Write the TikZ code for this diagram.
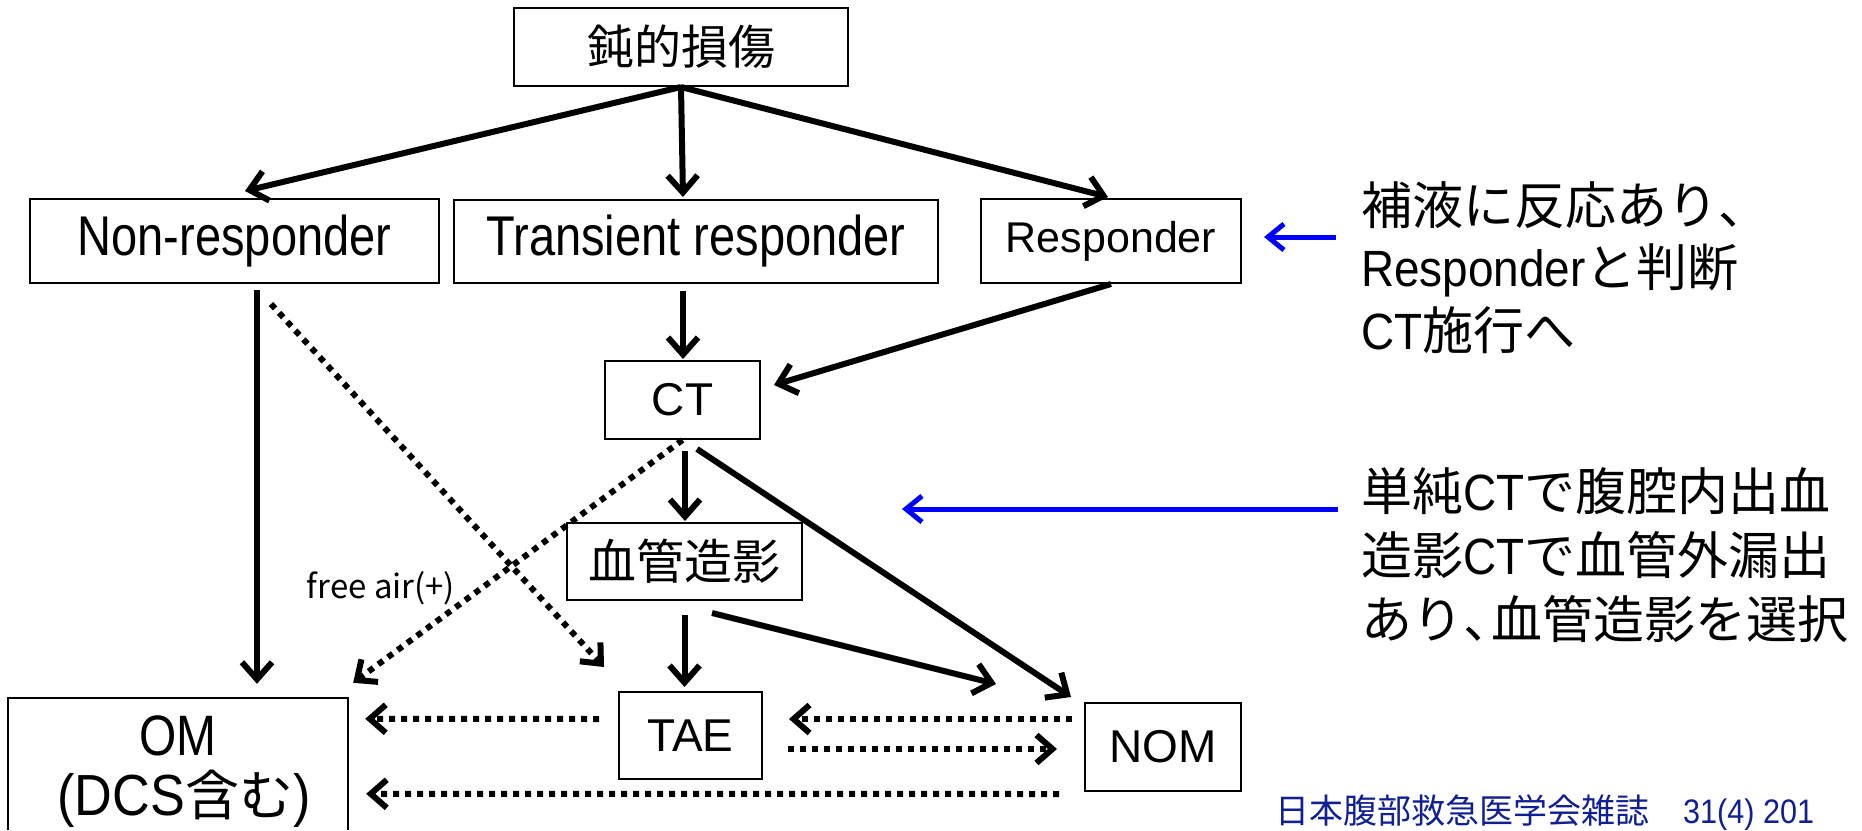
\documentclass[tikz,border=0pt]{standalone}
\usepackage{fontspec}
\setmainfont{Liberation Sans}
\newfontfamily\jp{Noto Sans CJK JP}
\newfontfamily\cnd[FakeStretch=0.84]{Liberation Sans}
\newfontfamily\cnb[FakeStretch=0.9]{Liberation Sans}
\usetikzlibrary{arrows.meta,calc}
\definecolor{citeblue}{RGB}{16,32,144}
\newcommand{\fsz}[1]{\fontsize{#1pt}{#1pt}\selectfont}
\newcommand{\hcomma}{\makebox[0.55em][l]{、}}
\begin{document}
\begin{tikzpicture}[x=1pt,y=-1pt,
  box/.style={draw,line width=2pt,inner sep=0pt},
  arr/.style={line width=6pt,-{Straight Barb[length=17pt,width=30pt]}},
  dotarr/.style={line width=6pt,dash pattern=on 6pt off 6pt,-{Straight Barb[length=16pt,width=28pt]}},
  bluearr/.style={draw=blue,line width=5pt,-{Straight Barb[length=16pt,width=26pt]}},
  rtext/.style={anchor=base west,inner sep=0pt,font=\fsz{51}}
]
\fill[white] (0,0) rectangle (1862,830);
\useasboundingbox (0,0) rectangle (1862,830);

% nodes
\node[box,minimum width=334pt,minimum height=78pt] (inj) at (681,47) {\jp\fsz{47}鈍的損傷};
\node[box,minimum width=409pt,minimum height=84pt] (nonr) at (234.5,241) {\cnd\fsz{56}\raisebox{-4pt}{Non-responder}};
\node[box,minimum width=484pt,minimum height=83pt] (trans) at (696,241.5) {\cnd\fsz{56}\raisebox{-4pt}{Transient responder}};
\node[box,minimum width=260pt,minimum height=84pt] (resp) at (1111,241) {\fsz{43}\raisebox{-2pt}{Responder}};
\node[box,minimum width=155pt,minimum height=78pt] (ct) at (682.5,400) {\fsz{46}CT};
\node[box,minimum width=235pt,minimum height=77pt] (angio) at (684.5,561.5) {\jp\fsz{48}血管造影};
\node[box,minimum width=143pt,minimum height=87pt] (tae) at (690.5,735.5) {\fsz{46}TAE};
\node[box,minimum width=156pt,minimum height=88pt] (nom) at (1163,747) {\fsz{46}NOM};
\node[inner sep=0pt,minimum width=340pt,minimum height=132pt] (om) at (178,764) {};
\draw[line width=2pt] (om.south west) -- (om.north west) -- (om.north east) -- (om.south east);
\node[inner sep=0pt] (omt1) at (178,736) {\cnd\fsz{57}OM};
\node[inner sep=0pt] (omt2) at (184,799) {\cnb\fsz{58}(DCS\jp\fsz{54}含む\cnb\fsz{58})};
\node[inner sep=0pt] (fa) at (381,588) {\jp\fsz{33}free air(+)};

% solid connectors
\draw[arr] (inj.south) -- ($(nonr.north)+(10.5,-7)$);
\draw[arr] (inj.south) -- ($(trans.north)+(-13,-2)$);
\draw[arr] (inj.south) -- ($(resp.north)+(-3,-1)$);
\draw[arr] ($(trans.south)+(-13,7)$) -- ($(ct.north)+(0.5,-1)$);
\draw[arr] (resp.south) -- ($(ct.east)+(13,-15)$);
\draw[arr] ($(ct.south)+(2.5,11)$) -- ($(angio.north)+(0.5,-1)$);
\draw[arr] ($(ct.south)+(14.5,9)$) -- ($(nom.north west)+(-13,-5)$);
\draw[arr] ($(angio.south)+(0,14)$) -- ($(tae.north)+(-6,-4)$);
\draw[arr] ($(angio.south)+(27.5,12)$) -- ($(nom.north west)+(-88,-18)$);
\draw[arr] ($(nonr.south)+(22.5,6)$) -- ($(om.north)+(79,-14)$);

% dotted connectors
\draw[dotarr] ($(nonr.south)+(36.5,20)$) -- ($(tae.north west)+(-14,-24)$);
\draw[dotarr] (ct.south) -- ($(om.north east)+(5,-15)$);
\draw[dotarr] ($(tae.west)+(-19,-16.5)$) -- ($(om.north east)+(17,21)$);
\draw[dotarr] ($(nom.west)+(-12,-28)$) -- ($(tae.east)+(26,-16.5)$);
\draw[dotarr] ($(tae.east)+(25,13.5)$) -- ($(nom.west)+(-27,2)$);
\draw[dotarr] ($(nom.west)+(-25,47)$) -- ($(om.north east)+(18,96)$);

% annotations
\coordinate (b1s) at (1336,237);
\coordinate (b1e) at (1264,237);
\coordinate (b2s) at (1338,509);
\coordinate (b2e) at (902,509);
\draw[bluearr] (b1s) -- (b1e);
\draw[bluearr] (b2s) -- (b2e);

\node[rtext] (r1a) at (1361,224) {\jp 補液に反応あり\hcomma};
\node[rtext] (r1b) at (1361,286) {\cnb Responder\jp と判断};
\node[rtext] (r1c) at (1361,349) {\cnb CT\jp 施行へ};
\node[rtext] (r2a) at (1361,510) {\jp 単純\cnb CT\jp で腹腔内出血};
\node[rtext] (r2b) at (1361,574) {\jp 造影\cnb CT\jp で血管外漏出};
\node[rtext] (r2c) at (1361,638) {\jp あり\hcomma 血管造影を選択};

\node[anchor=base west,inner sep=0pt,text=citeblue] (cite) at (1275,823) {\jp\fsz{34}日本腹部救急医学会雑誌　\cnb 31(4) 201};
\end{tikzpicture}
\end{document}
